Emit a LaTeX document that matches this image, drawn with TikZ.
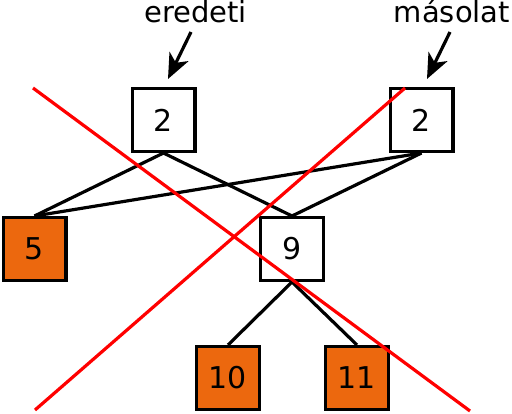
\documentclass[tikz,border=0pt]{standalone}
\usepackage{fontspec}
\setmainfont{DejaVu Sans}
\usetikzlibrary{arrows.meta}
\definecolor{boxorange}{RGB}{236,104,14}
\tikzset{
  treebox/.style={draw=black, line width=3.2pt, minimum size=62.8pt, inner sep=0pt, font=\fontsize{30}{32}\selectfont},
  leafbox/.style={treebox, fill=boxorange},
  conn/.style={black, line width=3.2pt},
  crossline/.style={red, line width=3.2pt},
  pointer/.style={black, line width=3.2pt, -{Stealth[length=25pt,width=21pt,inset=7pt]}},
  lbl/.style={font=\fontsize{29}{31}\selectfont, anchor=base, inner sep=0pt}
}
\begin{document}
\begin{tikzpicture}[x=1pt,y=1pt]
\useasboundingbox (0,0) rectangle (512,413);
% y_tikz = 413 - y_img
\node[treebox] (r1) at (163.5,293) {2};
\node[treebox] (r2) at (421.5,293) {2};
\node[leafbox] (n5) at (34.5,164) {5};
\node[treebox] (n9) at (292,164) {9};
\node[leafbox] (n10) at (228,35) {10};
\node[leafbox] (n11) at (357,35) {11};

\draw[conn] (r1.south) -- (n5.north);
\draw[conn] (r1.south) -- (n9.north);
\draw[conn] (r2.south) -- (n5.north);
\draw[conn] (r2.south) -- (n9.north);
\draw[conn] (n9.south) -- (n10.north);
\draw[conn] (n9.south) -- (n11.north);

\node[lbl] (l1) at (195.5,390) {eredeti};
\node[lbl] (l2) at (452,390) {másolat};
\coordinate (a1s) at (191,381);
\coordinate (a1e) at (168,334);
\coordinate (a2s) at (450,381);
\coordinate (a2e) at (427,334);
\draw[pointer] (a1s) -- (a1e);
\draw[pointer] (a2s) -- (a2e);

\coordinate (c1a) at (33,325);
\coordinate (c1b) at (470,2);
\coordinate (c2a) at (35,3);
\coordinate (c2b) at (405,325);
\draw[crossline] (c1a) -- (c1b);
\draw[crossline] (c2a) -- (c2b);
\end{tikzpicture}
\end{document}
